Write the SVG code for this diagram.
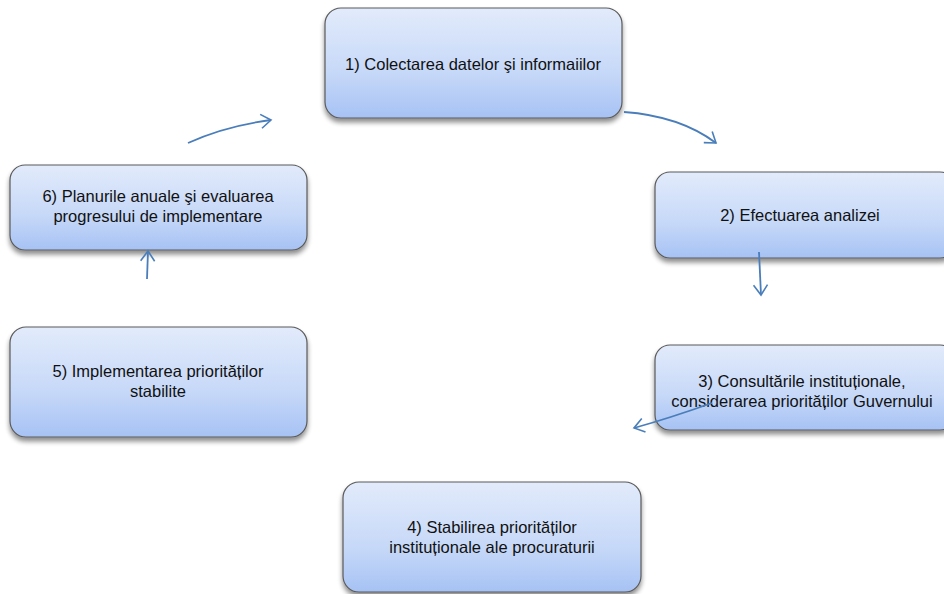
<svg xmlns="http://www.w3.org/2000/svg" width="944" height="594" viewBox="0 0 944 594">
<defs>
<linearGradient id="g" x1="0" y1="0" x2="0" y2="1">
<stop offset="0" stop-color="#e2ebfb"/>
<stop offset="0.6" stop-color="#c6d8f8"/>
<stop offset="1" stop-color="#a6c2f4"/>
</linearGradient>
<filter id="sh" x="-10%" y="-10%" width="120%" height="130%">
<feGaussianBlur in="SourceAlpha" stdDeviation="2.5"/>
<feOffset dx="0" dy="4" result="b"/>
<feComponentTransfer><feFuncA type="linear" slope="0.45"/></feComponentTransfer>
<feMerge><feMergeNode/><feMergeNode in="SourceGraphic"/></feMerge>
</filter>
<marker id="ah" markerWidth="16" markerHeight="16" refX="12" refY="8" orient="auto" markerUnits="userSpaceOnUse">
<polyline points="2,1 12,8 2,15" fill="none" stroke="#4a7ebb" stroke-width="1.6"/>
</marker>
</defs>
<style>
.box{fill:url(#g);stroke:#5a5a5a;stroke-width:1.2;filter:url(#sh)}
.t{font-family:"Liberation Sans",Arial,sans-serif;font-size:16.5px;fill:#111;text-anchor:middle}
.c{fill:none;stroke:#4a7ebb;stroke-width:1.8;marker-end:url(#ah)}
</style>
<rect width="944" height="594" fill="#fff"/>
<g id="n1"><rect class="box" x="325" y="8" width="297" height="110" rx="16"/><text class="t" x="473" y="70">1) Colectarea datelor şi informaiilor</text></g>
<g id="n2"><rect class="box" x="655" y="172" width="300" height="86" rx="15"/><text class="t" x="800" y="221">2) Efectuarea analizei</text></g>
<g id="n3"><rect class="box" x="655" y="345" width="300" height="85" rx="15"/><text class="t" x="802" y="387">3) Consultările instituționale,</text><text class="t" x="802" y="407">considerarea priorităților Guvernului</text></g>
<g id="n4"><rect class="box" x="343" y="482" width="298" height="110" rx="16"/><text class="t" x="492" y="533">4) Stabilirea priorităților</text><text class="t" x="492" y="553">instituționale ale procuraturii</text></g>
<g id="n5"><rect class="box" x="10" y="327" width="297" height="110" rx="16"/><text class="t" x="158" y="377">5) Implementarea priorităților</text><text class="t" x="158" y="397">stabilite</text></g>
<g id="n6"><rect class="box" x="10" y="165" width="297" height="85" rx="15"/><text class="t" x="158" y="202">6) Planurile anuale şi evaluarea</text><text class="t" x="158" y="222">progresului de implementare</text></g>
<g id="connectors">
<path class="c" d="M624 112 Q680 116 716 143"/>
<path class="c" d="M759 252 L761 295"/>
<path class="c" d="M712 403 Q670 418 634 428"/>
<path class="c" d="M147 279 L148 251"/>
<path class="c" d="M188 143 Q225 126 271 120"/>
</g>
</svg>
